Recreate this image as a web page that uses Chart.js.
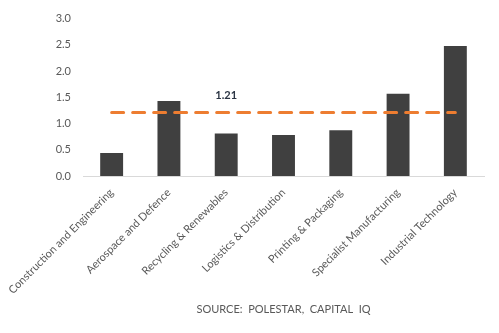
<!DOCTYPE html>
<html>
<head>
<meta charset="utf-8">
<script src="https://cdn.jsdelivr.net/npm/chart.js@4/dist/chart.umd.min.js"></script>
<style>
    html, body { margin: 0; padding: 0; background: #ffffff; }
    #wrap { width: 499px; height: 333px; position: relative; }
</style>
</head>
<body>
<div id="wrap"><canvas id="sectorChart"></canvas></div>
<script>
const categories = [
    'Construction and Engineering',
    'Aerospace and Defence',
    'Recycling & Renewables',
    'Logistics & Distribution',
    'Printing & Packaging',
    'Specialist Manufacturing',
    'Industrial Technology',
];
const sectorValues = [0.44, 1.43, 0.81, 0.78, 0.87, 1.57, 2.48];
const averageValue = 1.21;
const averageLine = categories.map(() => averageValue);
const averageLabelIndex = 2;
const sourceText = 'SOURCE:  POLESTAR,  CAPITAL  IQ';

(function () {
    const fontFamily = "'Lato', 'Liberation Sans', sans-serif";

    // Draws the "1.21" label above the average line.
    const averageLabelPlugin = {
        id: 'averageLabel',
        afterDatasetsDraw(chart) {
            const x = chart.scales.x.getPixelForValue(averageLabelIndex);
            const y = chart.scales.y.getPixelForValue(averageValue);
            const ctx = chart.ctx;
            ctx.save();
            ctx.font = 'bold 11px ' + fontFamily;
            ctx.fillStyle = '#2b3544';
            ctx.textAlign = 'center';
            ctx.textBaseline = 'middle';
            ctx.fillText(averageValue.toFixed(2), x, y - 17);
            ctx.restore();
        },
    };

    function createChart() {
        const canvas = document.getElementById('sectorChart');
        if (!canvas) return;

        new Chart(canvas.getContext('2d'), {
            type: 'bar',
            data: {
                labels: categories,
                datasets: [
                    {
                        type: 'line',
                        label: 'Average',
                        data: averageLine,
                        borderColor: '#ed7d31',
                        borderWidth: 3,
                        borderDash: [12, 9],
                        borderCapStyle: 'round',
                        pointRadius: 0,
                        fill: false,
                        order: 0,
                    },
                    {
                        label: 'Sector',
                        data: sectorValues,
                        backgroundColor: '#404040',
                        barPercentage: 0.4,
                        categoryPercentage: 1,
                        order: 1,
                    },
                ],
            },
            options: {
                responsive: true,
                maintainAspectRatio: false,
                animation: false,
                layout: { padding: { top: 8, right: 15, bottom: 0, left: 0 } },
                plugins: {
                    legend: { display: false },
                    tooltip: { enabled: false },
                },
                scales: {
                    x: {
                        grid: { display: false, drawTicks: false },
                        border: { color: '#d9d9d9', width: 1 },
                        ticks: {
                            color: '#595959',
                            font: { family: fontFamily, size: 11 },
                            minRotation: 45,
                            maxRotation: 45,
                            padding: 10,
                            autoSkip: false,
                        },
                        title: {
                            display: true,
                            text: sourceText,
                            color: '#595959',
                            font: { family: fontFamily, size: 11 },
                            padding: { top: 0, bottom: 17 },
                        },
                        afterFit: function (scale) {
                            scale.height = 157;
                            // keep the plot edge fixed; labels may reach the canvas edge
                            scale.paddingLeft = 0;
                            scale.paddingRight = 0;
                        },
                    },
                    y: {
                        min: 0,
                        max: 3,
                        grid: { display: false, drawTicks: false },
                        border: { display: false },
                        ticks: {
                            stepSize: 0.5,
                            color: '#595959',
                            font: { family: fontFamily, size: 11 },
                            padding: 12,
                            callback: function (value) {
                                return Number(value).toFixed(1);
                            },
                        },
                        afterFit: function (scale) {
                            scale.width = 83;
                        },
                    },
                },
            },
            plugins: [averageLabelPlugin],
        });
    }

    if (document.readyState === 'loading') {
        document.addEventListener('DOMContentLoaded', createChart);
    } else {
        createChart();
    }
})();
</script>
</body>
</html>
